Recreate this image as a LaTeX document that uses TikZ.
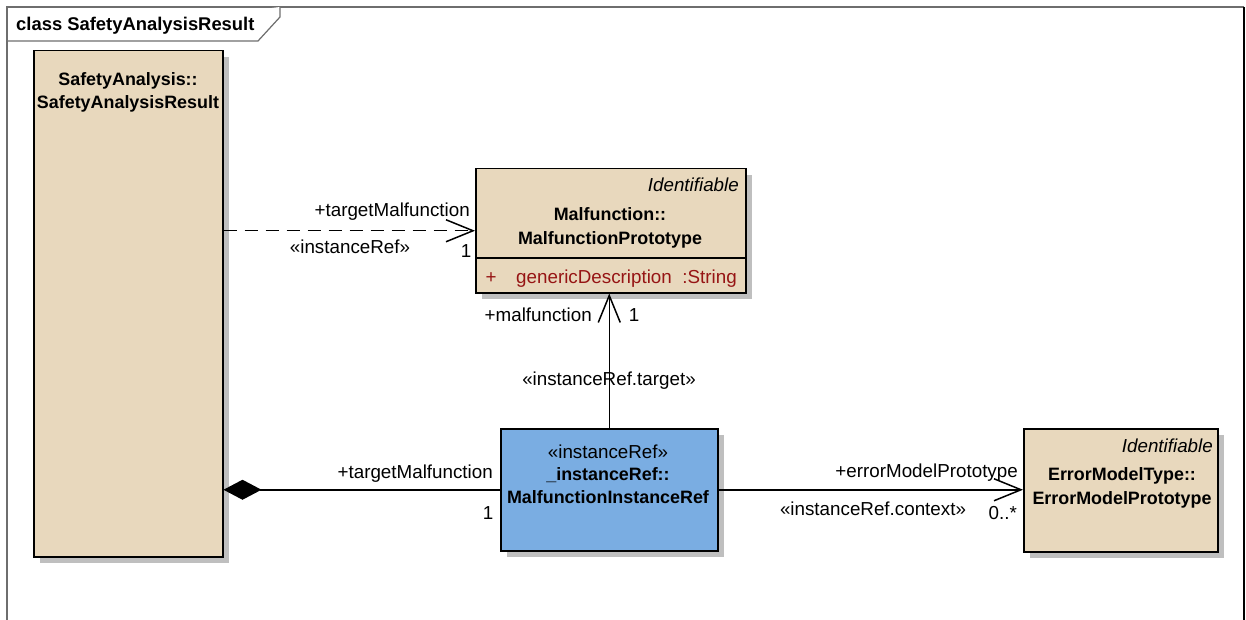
\documentclass[tikz,border=0pt]{standalone}
\usepackage{fontspec}
\setmainfont{Liberation Sans}
\usepackage{tikz}
\usetikzlibrary{arrows.meta,shadows}
\definecolor{Cb}{RGB}{232,216,189}
\definecolor{Cblue}{RGB}{122,173,226}
\definecolor{Cr}{RGB}{150,20,20}
\definecolor{Cg}{RGB}{110,110,110}

\begin{document}
\begin{tikzpicture}[x=1pt,y=-1pt,
    every node/.style={font=\fontsize{18.8}{23}\selectfont,inner sep=0pt},
    cls/.style={draw,line width=1.5pt,fill=Cb,anchor=north west,
      drop shadow={shadow xshift=6pt,shadow yshift=-6pt,fill=black!25,opacity=1}},
    bf/.style={font=\fontsize{17.9}{23}\selectfont\bfseries},
    it/.style={font=\fontsize{18.8}{23}\selectfont\itshape},
    conn/.style={line width=1.5pt},
    open/.style={conn,-{Straight Barb[length=27pt,width=22pt,line width=1.5pt]}}]
  \useasboundingbox (0,0) rectangle (1246,620);
  % frame
  \draw[Cg,line width=1.2pt] (7,620) -- (7,7) -- (1244,7);
  \draw[black,line width=1.2pt] (1244,7) -- (1244,620);
  \draw[Cg,line width=1.2pt,fill=white] (7,41) -- (258,41) -- (280,17) -- (280,7);
  \node[bf,font=\fontsize{18.4}{23}\selectfont\bfseries,anchor=base west] (title) at (16,31) {class SafetyAnalysisResult};

  % classes
  \node[cls,minimum width=189pt,minimum height=506pt] (sar) at (33,50) {};
  \node[bf,anchor=base] (sarA) at (128,86) {SafetyAnalysis::};
  \node[bf,anchor=base] (sarB) at (128,109) {SafetyAnalysisResult};

  \node[cls,minimum width=270pt,minimum height=124pt] (mp) at (475,168) {};
  \draw[line width=1.5pt] (475,258) -- (745,258);
  \node[it,anchor=base east] (mpS) at (739,192) {Identifiable};
  \node[bf,anchor=base] (mpA) at (610,221) {Malfunction::};
  \node[bf,anchor=base] (mpB) at (610,244) {MalfunctionPrototype};
  \node[Cr,anchor=base] (mpV) at (491,283) {+};
  \node[Cr,anchor=base west] (mpN) at (516,283) {genericDescription};
  \node[Cr,anchor=base east] (mpT) at (737,283) {:String};

  \node[cls,fill=Cblue,minimum width=217pt,minimum height=122pt] (ir) at (500,428) {};
  \node[anchor=base] (irS) at (608,458) {«instanceRef»};
  \node[bf,anchor=base] (irA) at (608,480) {\_instanceRef::};
  \node[bf,anchor=base] (irB) at (608,503) {MalfunctionInstanceRef};

  \node[cls,minimum width=194pt,minimum height=123pt] (emp) at (1023,428) {};
  \node[it,anchor=base east] (empS) at (1213,452) {Identifiable};
  \node[bf,anchor=base] (empA) at (1122,480) {ErrorModelType::};
  \node[bf,anchor=base] (empB) at (1122,504) {ErrorModelPrototype};

  % connectors
  \draw[open,dash pattern=on 13pt off 8pt] (sar.east |- mp.west) -- (mp.west);
  \node[anchor=base east] (l1) at (470,217) {+targetMalfunction};
  \node[anchor=base] (l2) at (350,254) {«instanceRef»};
  \node[anchor=base] (l3) at (466,257) {1};

  \draw[open] (ir.north) -- (ir.north |- mp.south);
  \node[anchor=base east] (l4) at (592,321) {+malfunction};
  \node[anchor=base] (l5) at (634,321) {1};
  \node[anchor=base] (l6) at (609,385) {«instanceRef.target»};

  \draw[conn,{Diamond[length=38pt,width=20pt]}-] (sar.east |- ir.west) -- (ir.west);
  \node[anchor=base east] (l7) at (493,478) {+targetMalfunction};
  \node[anchor=base] (l8) at (488,519) {1};

  \draw[open] (ir.east) -- (emp.west |- ir.east);
  \node[anchor=base east] (l9) at (1018,477) {+errorModelPrototype};
  \node[anchor=base] (l10) at (873,515) {«instanceRef.context»};
  \node[anchor=base east] (l11) at (1017,519) {0..*};
\end{tikzpicture}
\end{document}
